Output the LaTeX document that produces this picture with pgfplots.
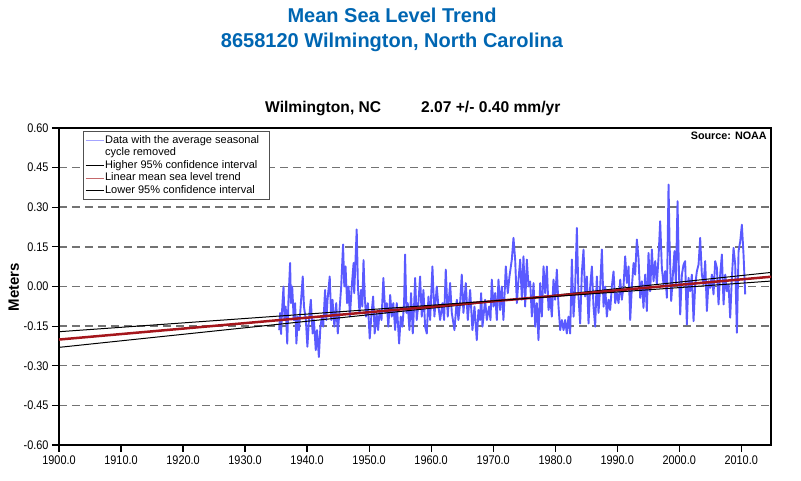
\documentclass[border=0pt]{standalone}
\usepackage{fontspec}
\setmainfont{Liberation Sans}
\newfontfamily\narrowfont[FakeStretch=0.87]{Liberation Sans}
\usepackage{pgfplots}
\usepackage{pgfplotstable}
\pgfplotsset{compat=1.18}
\definecolor{titleblue}{RGB}{0,102,178}
\definecolor{datablue}{RGB}{90,90,255}
\definecolor{trendred}{RGB}{165,22,28}
\definecolor{gridgray}{RGB}{115,115,115}
\definecolor{legframe}{RGB}{80,80,80}
\pgfplotsset{
  oneline leg/.style={legend image code/.code={\draw[##1] (0pt,0pt) -- (18pt,0pt);}},
}
\pgfplotstableread{
year value
1935.50 -0.165
1935.65 -0.100
1935.80 -0.180
1936.00 -0.076
1936.20 0.000
1936.35 -0.127
1936.55 -0.076
1936.80 -0.216
1937.00 -0.050
1937.26 0.089
1937.40 -0.063
1937.60 0.000
1937.85 -0.127
1938.07 -0.063
1938.28 -0.216
1938.50 -0.114
1938.70 -0.165
1939.00 -0.063
1939.30 0.038
1939.50 -0.076
1939.80 -0.127
1940.05 -0.228
1940.30 -0.127
1940.60 -0.050
1940.90 -0.178
1941.10 -0.127
1941.40 -0.241
1941.60 -0.165
1941.90 -0.267
1942.15 -0.152
1942.40 -0.114
1942.60 -0.152
1942.90 -0.013
1943.10 -0.127
1943.30 -0.050
1943.65 0.038
1943.90 -0.127
1944.10 -0.050
1944.40 -0.152
1944.70 -0.063
1944.95 -0.178
1945.20 -0.100
1945.50 0.000
1945.80 0.159
1946.00 0.000
1946.20 0.076
1946.45 -0.063
1946.70 0.000
1946.90 -0.114
1947.20 0.000
1947.50 0.089
1947.60 -0.025
1947.85 0.127
1948.00 0.216
1948.20 0.000
1948.45 -0.100
1948.70 -0.013
1948.90 -0.076
1949.10 0.100
1949.30 -0.038
1949.50 -0.114
1949.80 -0.063
1950.10 -0.197
1950.40 -0.100
1950.65 -0.038
1950.90 -0.178
1951.20 -0.100
1951.45 -0.165
1951.70 -0.089
1952.00 -0.127
1952.30 0.032
1952.60 -0.100
1952.85 -0.063
1953.10 -0.152
1953.40 -0.032
1953.65 -0.114
1953.90 -0.063
1954.20 -0.165
1954.46 -0.063
1954.84 -0.216
1955.10 -0.114
1955.37 -0.152
1955.64 -0.063
1955.80 0.121
1956.02 -0.100
1956.23 -0.063
1956.50 -0.165
1956.77 -0.025
1957.04 -0.178
1957.25 -0.076
1957.42 0.032
1957.68 -0.127
1957.95 -0.063
1958.22 0.038
1958.49 -0.114
1958.76 -0.013
1959.03 -0.152
1959.30 -0.178
1959.57 -0.038
1959.84 -0.127
1960.21 0.076
1960.53 -0.114
1960.91 0.000
1961.18 -0.076
1961.45 -0.127
1961.82 -0.063
1962.09 -0.127
1962.36 0.064
1962.68 -0.114
1963.06 0.013
1963.33 -0.100
1963.76 -0.165
1964.14 -0.050
1964.40 -0.127
1964.67 -0.063
1964.94 0.045
1965.21 -0.100
1965.59 0.013
1965.91 -0.127
1966.29 -0.013
1966.66 -0.165
1966.99 -0.076
1967.36 -0.203
1967.63 -0.089
1967.90 -0.127
1968.06 -0.025
1968.28 -0.152
1968.71 -0.050
1968.98 -0.127
1969.35 -0.076
1969.57 -0.127
1969.78 0.026
1970.05 -0.076
1970.32 -0.025
1970.59 -0.127
1970.86 0.026
1971.13 -0.089
1971.39 0.000
1971.66 -0.127
1972.04 0.076
1972.36 -0.025
1972.63 0.038
1973.01 0.102
1973.28 0.184
1973.55 0.102
1973.82 -0.063
1974.09 0.026
1974.36 0.102
1974.63 -0.050
1974.89 0.114
1975.16 -0.076
1975.43 0.102
1975.70 0.000
1975.97 0.019
1976.24 -0.114
1976.51 0.013
1976.78 -0.152
1977.04 -0.063
1977.31 -0.203
1977.58 0.013
1977.85 -0.114
1978.12 0.076
1978.39 -0.025
1978.66 0.076
1978.93 -0.089
1979.20 -0.038
1979.46 -0.114
1979.73 0.026
1980.00 -0.050
1980.27 0.064
1980.54 -0.076
1980.81 -0.165
1981.08 -0.127
1981.35 -0.165
1981.61 -0.127
1981.88 -0.178
1982.15 -0.114
1982.42 -0.178
1982.69 0.102
1982.96 -0.114
1983.23 0.000
1983.50 0.222
1983.76 -0.038
1984.03 -0.140
1984.30 0.051
1984.57 0.140
1984.84 -0.038
1985.11 0.038
1985.38 -0.140
1985.65 0.000
1985.92 0.076
1986.18 -0.076
1986.45 -0.152
1986.72 0.038
1986.99 -0.100
1987.26 0.000
1987.53 0.140
1987.80 -0.076
1988.07 0.000
1988.33 -0.114
1988.60 -0.050
1988.87 -0.089
1989.14 0.000
1989.41 0.057
1989.68 -0.063
1989.95 -0.025
1990.22 -0.063
1990.49 0.026
1990.75 -0.050
1991.02 0.000
1991.29 0.114
1991.56 0.013
1991.83 0.076
1992.10 -0.127
1992.37 0.000
1992.64 0.089
1992.90 0.045
1993.17 0.178
1993.44 0.108
1993.71 -0.043
1993.98 0.020
1994.24 -0.081
1994.51 0.045
1994.78 -0.093
1995.05 0.127
1995.32 -0.018
1995.59 0.140
1995.86 0.020
1996.13 0.096
1996.39 0.008
1996.66 0.108
1996.93 0.247
1997.20 0.071
1997.47 0.008
1997.74 0.058
1998.01 -0.043
1998.28 0.386
1998.44 0.171
1998.71 -0.055
1998.98 0.045
1999.24 0.134
1999.46 0.008
1999.73 0.323
1999.94 0.071
2000.16 -0.106
2000.43 0.045
2000.70 0.083
2000.96 0.096
2001.23 -0.144
2001.50 0.033
2001.77 -0.018
2002.04 0.045
2002.31 -0.131
2002.58 0.008
2002.85 0.058
2003.12 0.083
2003.38 0.184
2003.65 0.045
2003.92 0.008
2004.19 0.096
2004.46 -0.093
2004.73 0.020
2005.00 -0.005
2005.27 0.045
2005.53 -0.030
2005.80 0.096
2006.07 0.071
2006.34 -0.068
2006.61 0.045
2006.88 0.121
2007.15 -0.068
2007.42 0.045
2007.69 -0.018
2007.95 0.008
2008.22 -0.118
2008.49 0.033
2008.76 0.146
2009.03 0.083
2009.30 -0.175
2009.57 0.134
2009.84 0.171
2010.10 0.234
2010.37 0.121
2010.64 -0.030
}\msldata
\begin{document}
\begin{tikzpicture}
\useasboundingbox (0,0) rectangle (801pt,481pt);
\begin{axis}[
  at={(59pt,36pt)}, anchor=south west,
  scale only axis, width=712pt, height=317pt,
  xmin=1900, xmax=2014.8, ymin=-0.6, ymax=0.6,
  xtick={1900,1910,...,2010},
  ytick={-0.6,-0.45,-0.3,-0.15,0,0.15,0.3,0.45,0.6},
  tick pos=left, tick align=outside,
  major tick length=7pt,
  tick style={black, line width=1.2pt},
  axis line style={black, line width=1.7pt},
  /pgf/number format/assume math mode=true,
  ticklabel style={font=\narrowfont\fontsize{12.5}{14}\selectfont},
  xticklabel style={/pgf/number format/.cd, fixed, fixed zerofill, precision=1, 1000 sep={}},
  yticklabel style={/pgf/number format/.cd, fixed, fixed zerofill, precision=2},
  ymajorgrids,
  grid style={gridgray, line width=1.5pt, dash pattern=on 8pt off 5pt},
  legend style={
    at={(rel axis cs:0.0337,0.9905)}, anchor=north west,
    draw=legframe, line width=1.2pt,
    font=\fontsize{11}{11}\selectfont,
    inner xsep=1.5pt, inner ysep=2.5pt,
    nodes={inner sep=1pt, text height=8pt, text depth=2.6pt},
    row sep=0pt,
    /tikz/every even column/.append style={column sep=2pt},
  },
  legend cell align=left,
]
\addplot[datablue, line width=1.9pt, line join=round, oneline leg,
  legend image post style={line width=1pt, color=datablue!55}] table[x=year, y=value] {\msldata};
\addlegendentry{Data with the average seasonal\hspace{8pt}\mbox{}}
\addlegendimage{empty legend}
\addlegendentry{cycle removed}
\addplot[black, line width=1pt, oneline leg, legend image post style={line width=0.9pt}] coordinates {(1900,-0.2304) (2015,0.0537)};
\addlegendentry{Higher 95\% confidence interval}
\addplot[trendred, line width=2.5pt, oneline leg, legend image post style={line width=1pt, color=trendred!65}] coordinates {(1900,-0.2008) (2015,0.0373)};
\addlegendentry{Linear mean sea level trend}
\addplot[black, line width=1pt, oneline leg, legend image post style={line width=0.9pt}] coordinates {(1900,-0.1712) (2015,0.0209)};
\addlegendentry{Lower 95\% confidence interval}
\end{axis}
\node[anchor=base, font=\fontsize{20}{24}\selectfont\bfseries, text=titleblue] at (392pt,458.3pt) {Mean Sea Level Trend};
\node[anchor=base, font=\fontsize{20}{24}\selectfont\bfseries, text=titleblue] at (392pt,433.3pt) {8658120 Wilmington, North Carolina};
\node[anchor=base west, inner sep=0pt, font=\fontsize{15.6}{18}\selectfont\bfseries] at (265pt,368.4pt) {Wilmington, NC};
\node[anchor=base west, inner sep=0pt, font=\fontsize{15.6}{18}\selectfont\bfseries] at (421pt,368.4pt) {2.07 +/- 0.40 mm/yr};
\node[anchor=base east, inner sep=0pt, font=\fontsize{10.8}{12}\selectfont\bfseries] at (767pt,341pt) {Source: NOAA};
\node[rotate=90, font=\fontsize{15}{18}\selectfont\bfseries] at (13.7pt,194pt) {Meters};
\end{tikzpicture}
\end{document}
